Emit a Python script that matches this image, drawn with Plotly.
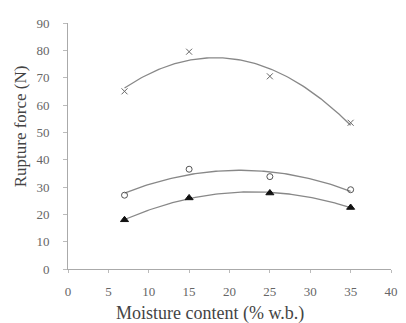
import numpy as np
import plotly.graph_objects as go

moisture = [7, 15, 25, 35]
force_x = [65, 79.5, 70.5, 53.5]
force_circle = [27, 36.5, 33.8, 29]
force_tri = [18, 26, 27.8, 22.5]

x_ticks = [0, 5, 10, 15, 20, 25, 30, 35, 40]
y_ticks = [0, 10, 20, 30, 40, 50, 60, 70, 80, 90]

fig = go.Figure()
xs = np.linspace(7, 35, 100)
for ys, sym, mcol, sz in [(force_x, "x-thin", "#666", 6), (force_circle, "circle-open", "#555", 6),
                          (force_tri, "triangle-up", "#111", 7)]:
    c = np.polyfit(moisture, ys, 2)
    fig.add_trace(go.Scatter(x=xs, y=np.polyval(c, xs), mode="lines",
                             line=dict(color="#888", width=1.3), showlegend=False, hoverinfo="skip"))
    fig.add_trace(go.Scatter(x=moisture, y=ys, mode="markers", showlegend=False,
                             marker=dict(symbol=sym, size=sz, color=mcol,
                                         line=dict(color=mcol, width=1))))

axis_font = dict(family="Liberation Serif", size=13, color="#666")
fig.update_layout(
    width=398, height=315, margin=dict(l=60, r=8, t=9, b=54),
    plot_bgcolor="white", paper_bgcolor="white",
    xaxis=dict(range=[0, 40], tickvals=x_ticks, showgrid=False, zeroline=False,
               showline=True, linecolor="#aaa", linewidth=1, ticks="outside",
               ticklen=3, tickcolor="#bbb", tickfont=axis_font, ticklabelstandoff=7),
    yaxis=dict(range=[0, 90], tickvals=y_ticks, showgrid=False, zeroline=False,
               showline=True, linecolor="#aaa", linewidth=1, ticks="outside",
               ticklen=4, tickcolor="#bbb", tickfont=axis_font, ticklabelstandoff=11),
    annotations=[
        dict(text="Moisture content (% w.b.)", xref="paper", yref="paper",
             x=0.44, y=0, xanchor="center", yanchor="middle", yshift=-44,
             showarrow=False, font=dict(family="Liberation Serif", size=18, color="#444")),
        dict(text="Rupture force (N)", xref="paper", yref="paper", textangle=-90,
             x=0, y=0.58, xanchor="center", yanchor="middle", xshift=-48,
             showarrow=False, font=dict(family="Liberation Serif", size=17, color="#444")),
    ],
)
fig.write_html("out.html")
